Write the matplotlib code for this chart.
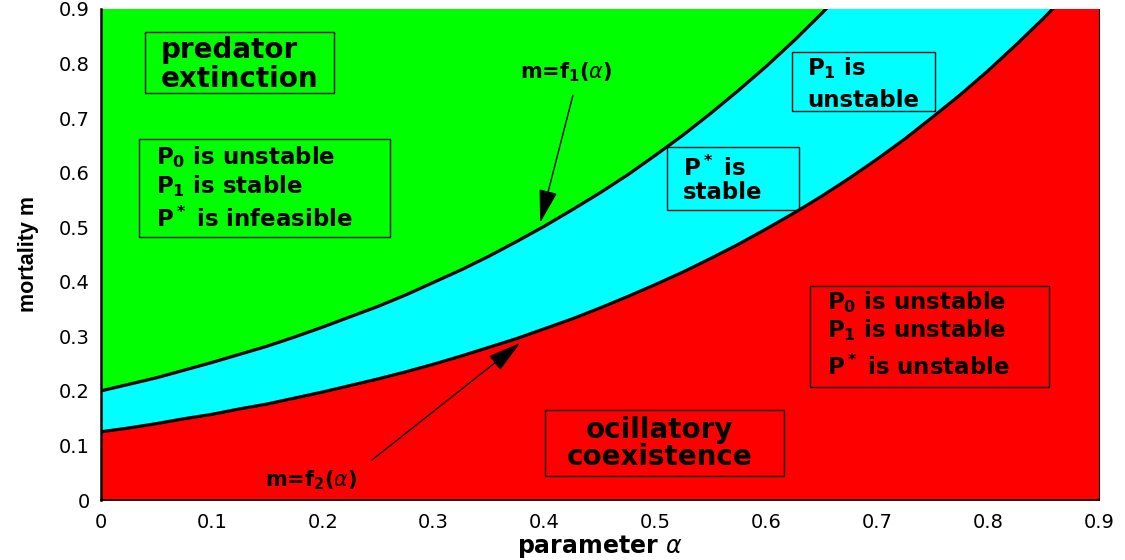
import matplotlib
matplotlib.use("Agg")
import matplotlib.pyplot as plt
from matplotlib.patches import Rectangle

# Stability boundaries m = f1(alpha) and m = f2(alpha)
alpha = [0.000, 0.025, 0.050, 0.075, 0.100, 0.125, 0.150, 0.175, 0.200,
         0.225, 0.250, 0.275, 0.300, 0.325, 0.350, 0.375, 0.400, 0.425,
         0.450, 0.475, 0.500, 0.525, 0.550, 0.575, 0.600, 0.625, 0.650,
         0.675, 0.700, 0.725, 0.750, 0.775, 0.800, 0.825, 0.850, 0.875,
         0.900]
f1 = [0.200, 0.212, 0.224, 0.238, 0.252, 0.267, 0.282, 0.299, 0.317,
      0.336, 0.355, 0.376, 0.399, 0.422, 0.447, 0.474, 0.502, 0.532,
      0.563, 0.596, 0.632, 0.669, 0.709, 0.751, 0.795, 0.842, 0.892,
      0.945, 1.001]
f2 = [0.125, 0.132, 0.140, 0.149, 0.157, 0.167, 0.176, 0.187, 0.198,
      0.210, 0.222, 0.235, 0.249, 0.264, 0.280, 0.296, 0.314, 0.332,
      0.352, 0.373, 0.395, 0.418, 0.443, 0.469, 0.497, 0.526, 0.557,
      0.590, 0.625, 0.662, 0.702, 0.743, 0.787, 0.834, 0.883, 0.935,
      0.991]

ticks = [0, 0.1, 0.2, 0.3, 0.4, 0.5, 0.6, 0.7, 0.8, 0.9]
tick_labels = ["0", "0.1", "0.2", "0.3", "0.4", "0.5", "0.6", "0.7", "0.8", "0.9"]

GREEN = "#00ff00"
CYAN = "#00ffff"
RED = "#ff0000"

plt.rcParams["font.family"] = ["DejaVu Sans"]
plt.rcParams["mathtext.fontset"] = "custom"
plt.rcParams["mathtext.rm"] = "DejaVu Sans:bold"
plt.rcParams["mathtext.bf"] = "DejaVu Sans:bold"
plt.rcParams["mathtext.it"] = "DejaVu Sans:italic"

fig = plt.figure(figsize=(11.25, 5.6), dpi=100)
ax = fig.add_axes([101 / 1125, 60 / 560, 998 / 1125, 491 / 560])
ax.set_facecolor(CYAN)

a1 = alpha[:len(f1)]
ax.fill_between(a1, f1, 1.0, color=GREEN, lw=0)
ax.fill_between(alpha, 0, f2, color=RED, lw=0)
ax.plot(a1, f1, color="black", lw=2.3, solid_capstyle="butt")
ax.plot(alpha, f2, color="black", lw=2.3, solid_capstyle="butt")

ax.set_xlim(0, 0.9)
ax.set_ylim(0, 0.9)
ax.set_xticks(ticks)
ax.set_xticklabels(tick_labels)
ax.set_yticks(ticks)
ax.set_yticklabels(tick_labels)
ax.tick_params(length=0, labelsize=14)
ax.tick_params(axis="x", pad=9)
ax.tick_params(axis="y", pad=8)
ax.spines["top"].set_visible(False)
ax.spines["left"].set_linewidth(1.8)
ax.spines["bottom"].set_linewidth(1.2)
ax.spines["right"].set_linewidth(0.8)

ax.set_xlabel(r"parameter $\alpha$", fontsize=17, fontweight="bold", labelpad=1)
ax.set_ylabel("mortality m", fontsize=15.5, fontweight="bold",
              family=["Liberation Sans", "DejaVu Sans"], labelpad=14)


def box(x0, x1, y0, y1):
    ax.add_patch(Rectangle((x0, y0), x1 - x0, y1 - y0, fill=False,
                           ec="#101010", lw=1.0, zorder=4))


def lines(x, ys, texts, size, ha="left"):
    for y, t in zip(ys, texts):
        ax.text(x, y, t, fontsize=size, fontweight="bold", ha=ha, va="center",
                zorder=5)


# predator extinction
box(0.0397, 0.2101, 0.746, 0.858)
lines(0.0535, [0.825, 0.771], ["predator", "extinction"], 20)

box(0.0343, 0.2606, 0.482, 0.662)
lines(0.0500, [0.628, 0.576, 0.514],
      [r"$\mathrm{P}_0$ is unstable", r"$\mathrm{P}_1$ is stable",
       r"$\mathrm{P}^*$ is infeasible"], 16.5)

# P1 unstable (cyan, upper right)
box(0.623, 0.752, 0.713, 0.821)
lines(0.637, [0.791, 0.733], [r"$\mathrm{P}_1$ is", "unstable"], 16.5)

# P* stable
box(0.5104, 0.6295, 0.5315, 0.647)
lines(0.525, [0.608, 0.564], [r"$\mathrm{P}^*$ is", "stable"], 16.5)

# all unstable (red region)
box(0.6394, 0.8549, 0.207, 0.392)
lines(0.6545, [0.362, 0.311, 0.243],
      [r"$\mathrm{P}_0$ is unstable", r"$\mathrm{P}_1$ is unstable",
       r"$\mathrm{P}^*$ is unstable"], 16.5)

# oscillatory coexistence
box(0.4004, 0.6159, 0.044, 0.165)
lines(0.5035, [0.128, 0.078], ["ocillatory", "coexistence"], 20, ha="center")

arrow = dict(arrowstyle="-|>,head_length=0.95,head_width=0.26", color="black",
             lw=1.0, shrinkA=0, shrinkB=0, mutation_scale=22)
ax.annotate("", xy=(0.396, 0.508), xytext=(0.4256, 0.742), arrowprops=arrow,
            zorder=6)
ax.text(0.378, 0.784, r"m=f$_1$($\alpha$)", fontsize=15, fontweight="bold",
        ha="left", va="center", zorder=5)

ax.annotate("", xy=(0.378, 0.288), xytext=(0.2444, 0.0733), arrowprops=arrow,
            zorder=6)
ax.text(0.148, 0.037, r"m=f$_2$($\alpha$)", fontsize=15, fontweight="bold",
        ha="left", va="center", zorder=5)

fig.savefig("out.png", dpi=100)
